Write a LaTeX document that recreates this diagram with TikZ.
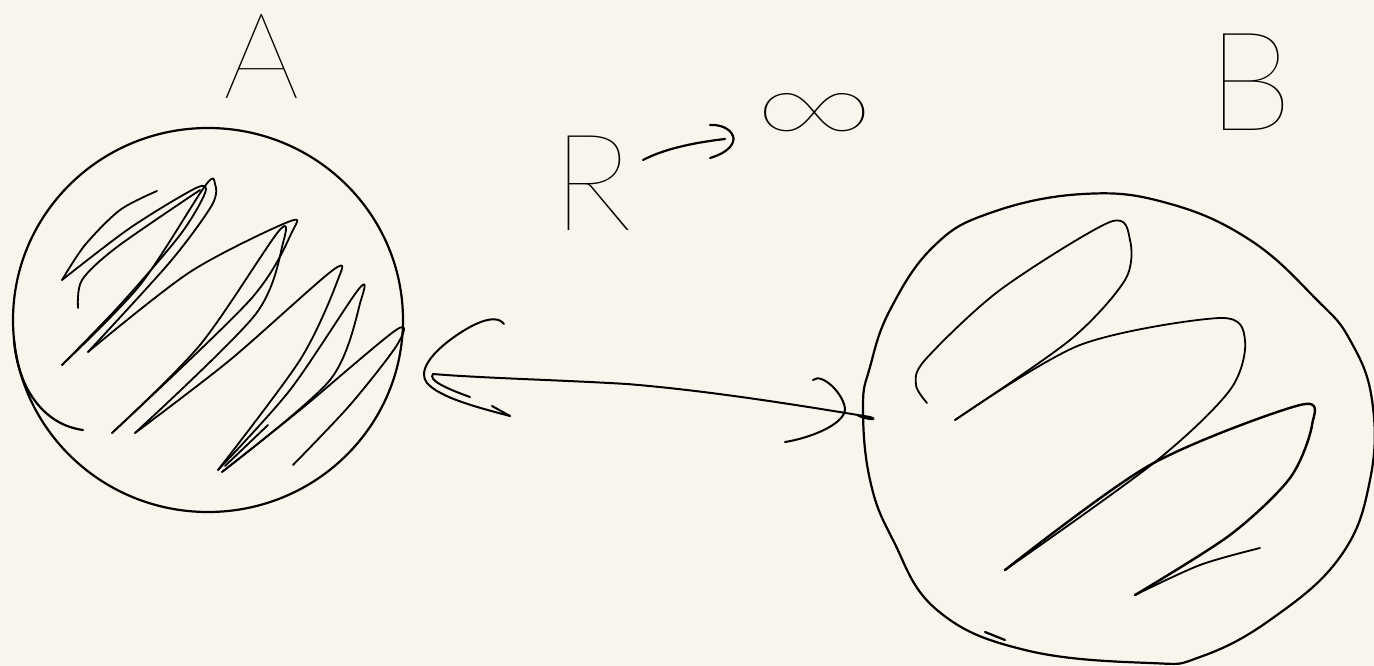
\documentclass[tikz,border=0pt]{standalone}
\usepackage{fontspec}
\IfFontExistsTF{Lato Hairline}{\newfontfamily\handf{Lato Hairline}}{\newfontfamily\handf{DejaVu Sans}}
\definecolor{paper}{RGB}{248,246,236}
\definecolor{ink}{RGB}{0,0,0}
\begin{document}
\begin{tikzpicture}[x=1pt,y=-1pt,
  pen/.style={draw=ink,line width=2.2pt,line cap=round,line join=round},
  thin/.style={pen,line width=1.8pt},
  hand/.style={inner sep=0pt,text=ink}]
\fill[paper] (0,0) rectangle (1374,666);
\useasboundingbox (0,0) rectangle (1374,666);

% labels
\node[hand,anchor=base] (labA) at (262,99) {\handf\fontsize{120}{120}\selectfont A};
\node[hand,anchor=base] (labB) at (1250,131) {\handf\fontsize{138}{138}\selectfont B};
\node[hand,anchor=base] (labR) at (592,230) {\handf\fontsize{135}{135}\selectfont R};
\node[hand,xscale=1.25] (inf) at (815,123) {\handf\fontsize{135}{135}\selectfont ∞};

% arrow R -> infinity
\coordinate (rt) at (643,160);
\coordinate (rh) at (725,139);
\draw[pen] (rt) .. controls (662,150) and (690,143) .. (rh);
\draw[pen] (710,125) .. controls (726,124) and (736,134) .. (733,142) .. controls (730,150) and (720,155) .. (710,158);

% circle A
\coordinate (cA) at (208,320);
\draw[pen] (cA) ellipse [x radius=195, y radius=192];
\draw[pen] (14,340) .. controls (18,390) and (45,425) .. (83,430);

% scribble A
\draw[thin] plot[smooth,tension=0.5] coordinates {(157,191)(120,210)(85,245)(62,280)};
\draw[thin] plot[smooth,tension=0.5] coordinates {(62,280)(130,228)(196,188)(205,193)(180,235)(120,305)(62,365)};
\draw[thin] plot[smooth,tension=0.5] coordinates {(62,365)(140,285)(205,186)(215,184)(212,205)(170,262)(88,352)};
\draw[thin] plot[smooth,tension=0.5] coordinates {(88,352)(190,272)(288,222)(292,232)(250,300)(112,433)};
\draw[thin] plot[smooth,tension=0.5] coordinates {(112,433)(200,345)(278,232)(283,243)(255,315)(135,433)};
\draw[thin] plot[smooth,tension=0.5] coordinates {(135,433)(230,360)(333,270)(337,282)(300,360)(218,470)};
\draw[thin] plot[smooth,tension=0.5] coordinates {(218,470)(290,390)(358,290)(361,300)(330,380)(222,472)};
\draw[thin] plot[smooth,tension=0.5] coordinates {(222,472)(300,410)(396,330)(397,345)(350,405)(293,465)};
\draw[thin] plot[smooth,tension=0.5] coordinates {(78,308)(82,280)(117,247)(200,190)};
\draw[thin] (268,425) -- (225,466);

% circle B
\draw[pen] plot[smooth cycle,tension=0.7] coordinates {(1083,194)(1167,203)(1250,240)(1317,300)(1350,340)(1372,400)(1370,480)(1340,557)(1270,620)(1200,657)(1150,663)(1025,650)(937,610)(893,540)(870,480)(863,407)(870,367)(890,310)(933,247)(990,213)};
\draw[pen] (985,632) -- (1005,640);

% scribble B
\draw[thin] plot[smooth,tension=0.5] coordinates {(927,403)(916,385)(925,360)(1000,290)(1110,222)(1130,240)(1125,280)(1070,340)(955,420)};
\draw[thin] plot[smooth,tension=0.5] coordinates {(955,420)(1080,345)(1220,318)(1245,340)(1230,390)(1155,462)(1005,570)};
\draw[pen,line width=2.4pt] plot[smooth,tension=0.5] coordinates {(1005,570)(1150,465)(1300,405)(1312,425)(1290,478)(1230,535)(1135,595)};
\draw[thin] plot[smooth,tension=0.5] coordinates {(1135,595)(1200,565)(1260,548)};

% double arrow between A and B
\coordinate (la) at (433,374);
\coordinate (rb) at (870,417);
\draw[pen,line width=2pt] (la) .. controls (480,378) and (560,380) .. (627,384) .. controls (700,390) and (780,402) .. (rb) .. controls (880,420) and (866,420) .. (857,415);
\draw[pen,line width=2pt] (470,397) .. controls (445,388) and (428,380) .. (la);
\draw[pen,line width=2pt] (504,324) .. controls (495,312) and (470,325) .. (450,340) .. controls (430,355) and (418,372) .. (427,383) .. controls (440,398) and (480,408) .. (510,416);
\draw[pen,line width=2pt] (492,406) -- (510,416);
\draw[pen,line width=2pt] (813,380) .. controls (822,372) and (845,395) .. (845,410) .. controls (843,425) and (810,438) .. (785,442);
\end{tikzpicture}
\end{document}
